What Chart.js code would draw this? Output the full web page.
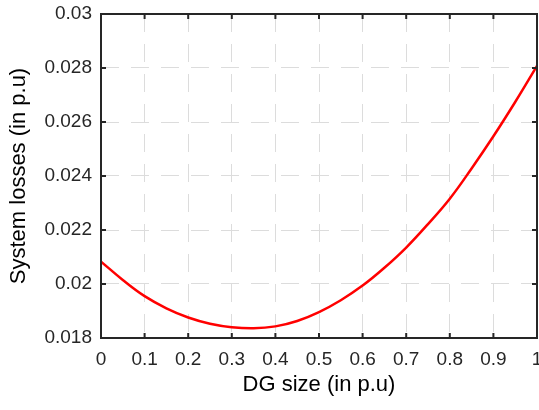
<!DOCTYPE html>
<html>
<head>
<meta charset="utf-8">
<script src="https://cdn.jsdelivr.net/npm/chart.js@4.4.0/dist/chart.umd.min.js"></script>
<style>
  html, body { margin: 0; padding: 0; background: #fff; }
  #wrap { width: 539px; height: 410px; }
</style>
</head>
<body>
<div id="wrap"><canvas id="chart"></canvas></div>
<script>
// ===== Data =====
const dgSize = [0, 0.05, 0.1, 0.15, 0.2, 0.25, 0.3, 0.35, 0.4, 0.45, 0.5,
                0.55, 0.6, 0.65, 0.7, 0.75, 0.8, 0.85, 0.9, 0.95, 1];
const systemLosses = [0.02083, 0.02015, 0.01955, 0.01910, 0.01876, 0.01853, 0.01840,
                      0.01836, 0.01843, 0.01863, 0.01896, 0.01940, 0.01994, 0.02060,
                      0.02135, 0.02222, 0.02316, 0.02428, 0.02547, 0.02674, 0.02808];
const xTicks = [0, 0.1, 0.2, 0.3, 0.4, 0.5, 0.6, 0.7, 0.8, 0.9, 1];
const yTicks = [0.018, 0.02, 0.022, 0.024, 0.026, 0.028, 0.03];

const axisColor = '#262626';
const gridColor = '#dcdcdc';
const fontFamily = "'Liberation Sans', Arial, Helvetica, sans-serif";

// MATLAB-like box with inward ticks
const boxPlugin = {
  id: 'box',
  afterDraw(chart) {
    const { ctx, chartArea: a, scales: { x, y } } = chart;
    const len = 5;
    ctx.save();
    ctx.strokeStyle = axisColor;
    ctx.lineWidth = 2;
    ctx.strokeRect(a.left, a.top, a.right - a.left, a.bottom - a.top);
    ctx.beginPath();
    xTicks.forEach(v => {
      const px = x.getPixelForValue(v);
      ctx.moveTo(px, a.bottom); ctx.lineTo(px, a.bottom - len);
      ctx.moveTo(px, a.top); ctx.lineTo(px, a.top + len);
    });
    yTicks.forEach(v => {
      const py = y.getPixelForValue(v);
      ctx.moveTo(a.left, py); ctx.lineTo(a.left + len, py);
      ctx.moveTo(a.right, py); ctx.lineTo(a.right - len, py);
    });
    ctx.stroke();
    ctx.restore();
  }
};

const fmt = v => String(parseFloat(Number(v).toFixed(3)));

// keep the plot area fixed, ignore label overflow padding
const noPad = s => { s.paddingLeft = 0; s.paddingRight = 0; s.paddingTop = 0; s.paddingBottom = 0; };

new Chart(document.getElementById('chart'), {
  type: 'line',
  data: {
    datasets: [{
      data: dgSize.map((d, i) => ({ x: d, y: systemLosses[i] })),
      borderColor: '#ff0000',
      borderWidth: 2.5,
      pointRadius: 0,
      fill: false,
      tension: 0.4
    }]
  },
  options: {
    responsive: true,
    maintainAspectRatio: false,
    animation: false,
    layout: { padding: { top: 14, right: 2, left: 0, bottom: 0 } },
    plugins: { legend: { display: false }, tooltip: { enabled: false } },
    scales: {
      x: {
        type: 'linear',
        min: 0, max: 1,
        afterBuildTicks: s => { s.ticks = xTicks.map(v => ({ value: v })); },
        afterFit: s => { s.height = 72; noPad(s); },
        grid: { color: gridColor, lineWidth: 1, drawTicks: false },
        border: { display: false, dash: [18, 12] },
        ticks: { color: axisColor, padding: 10, maxRotation: 0, autoSkip: false,
                 font: { family: fontFamily, size: 19 }, callback: fmt },
        title: { display: true, text: 'DG size (in p.u)', color: '#000',
                 font: { family: fontFamily, size: 22 }, padding: { top: 0, bottom: 12 } }
      },
      y: {
        type: 'linear',
        min: 0.018, max: 0.03,
        afterBuildTicks: s => { s.ticks = yTicks.map(v => ({ value: v })); },
        afterFit: s => { s.width = 101; noPad(s); },
        grid: { color: gridColor, lineWidth: 1, drawTicks: false },
        border: { display: false, dash: [18, 12] },
        ticks: { color: axisColor, padding: 9, autoSkip: false,
                 font: { family: fontFamily, size: 19 }, callback: fmt },
        title: { display: true, text: 'System losses (in p.u)', color: '#000',
                 font: { family: fontFamily, size: 22 }, padding: { top: 6, bottom: 0 } }
      }
    }
  },
  plugins: [boxPlugin]
});
</script>
</body>
</html>
